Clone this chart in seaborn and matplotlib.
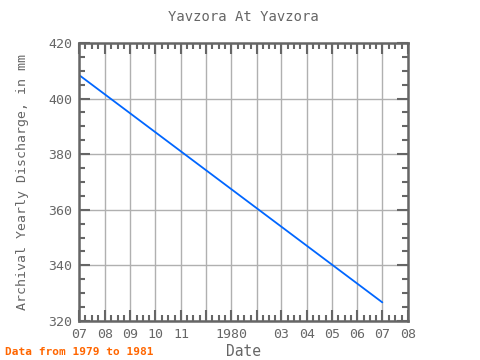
import pandas as pd
import numpy as np
import matplotlib.pyplot as plt
import seaborn as sns

sns.set_style("white")
plt.rcParams['font.family'] = ['DejaVu Sans Mono']

# data
dates = pd.to_datetime(['1979-07-01', '1980-07-01'])
discharge = [408.5, 326.7]
df = pd.DataFrame({'date': dates, 'discharge': discharge})

tick_dates = pd.date_range('1979-07-01', '1980-08-01', freq='MS')
tick_labels = ['07', '08', '09', '10', '11', '', '1980', '', '03', '04', '05', '06', '07', '08']

gray = '#666666'

fig = plt.figure(figsize=(4.8, 3.6), dpi=100)
ax = fig.add_axes([79 / 480, 1 - 321 / 360, 329 / 480, 278 / 360])

sns.lineplot(data=df, x='date', y='discharge', ax=ax, color='#0066ff', linewidth=1.3)

ax.set_xlim(tick_dates[0], tick_dates[-1])
ax.set_ylim(320, 420)
ax.set_xticks(tick_dates)
ax.set_xticklabels(tick_labels)
minor = []
for i in range(len(tick_dates) - 1):
    d0, d1 = tick_dates[i], tick_dates[i + 1]
    for k in (1, 2, 3):
        minor.append(d0 + (d1 - d0) * k / 4)
ax.set_xticks(minor, minor=True)
ax.set_yticks(np.arange(320, 421, 20))
ax.set_yticks(np.arange(320, 421, 5), minor=True)

ax.grid(True, which='major', color='#b0b0b0', linewidth=1)
ax.tick_params(which='both', direction='in', top=True, right=True, bottom=True, left=True,
               colors=gray, width=1.5)
ax.tick_params(which='major', length=8, labelsize=9.5, pad=5)
ax.tick_params(which='minor', length=4)
for s in ax.spines.values():
    s.set_color(gray)
    s.set_linewidth(1.8)

ax.set_xlabel('Date', color=gray, fontsize=10.5, labelpad=2)
ax.set_ylabel('Archival Yearly Discharge, in mm', color=gray, fontsize=9.5, labelpad=14)
ax.set_title('Yavzora At Yavzora', color=gray, fontsize=10, pad=16)
fig.text(5 / 480, 1 - 352 / 360, 'Data from 1979 to 1981', color='#ff6600',
         fontsize=8, fontweight='bold', va='center')

plt.savefig('out.png', dpi=100)
